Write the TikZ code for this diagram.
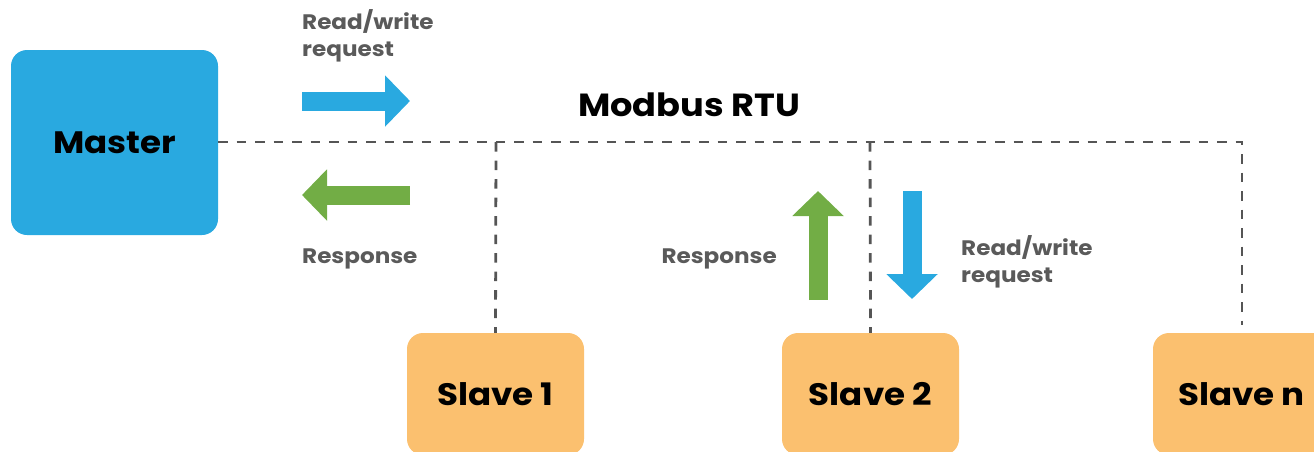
\documentclass[tikz,border=0pt]{standalone}
\usepackage{fontspec}
\setmainfont{Poppins}[FakeStretch=1.1]
\usetikzlibrary{arrows.meta}
\definecolor{mblue}{HTML}{29A9E0}
\definecolor{mgreen}{HTML}{72AD45}
\definecolor{morange}{HTML}{FBC06F}
\definecolor{dashgray}{HTML}{555555}
\definecolor{txtgray}{HTML}{5A5A5A}
\tikzset{
  masterbox/.style={fill=mblue, rounded corners=16pt, minimum width=207pt, minimum height=185pt, inner sep=0pt, font=\fontsize{31}{34}\selectfont\bfseries},
  slavebox/.style={fill=morange, rounded corners=16pt, minimum width=177pt, minimum height=122pt, inner sep=0pt, font=\fontsize{31}{34}\selectfont\bfseries},
  bus/.style={draw=dashgray, line width=2.8pt, dash pattern=on 9.5pt off 9pt},
  fatarrow/.style={line width=19pt, -{Triangle[length=25pt,width=50pt]}},
  lbl/.style={text=txtgray, font=\fontsize{21}{27}\selectfont\bfseries, inner sep=0pt, align=left},
}
\begin{document}
\begin{tikzpicture}[x=1pt,y=-1pt]
\useasboundingbox (0,0) rectangle (1314,451);
\begin{scope}
\clip (0,0) rectangle (1314,451);
\node[masterbox] (master) at (114.5,142.5) {Master};
\node[slavebox] (s1) at (495.5,394) {Slave 1};
\node[slavebox] (s2) at (870.5,394) {Slave 2};
\node[slavebox] (sn) at (1241.5,394) {Slave n};
\end{scope}
\coordinate (j1) at (496,142);
\coordinate (j2) at (870,142);
\coordinate (jn) at (1242,142);
\coordinate (en) at (1242,325);
\draw[bus] (master.east |- j1) -- (jn) -- (en);
\draw[bus] (j1) -- (s1.north);
\draw[bus] (j2) -- (s2.north);
\node[font=\fontsize{32}{34}\selectfont\bfseries, inner sep=0pt] (title) at (689,105) {Modbus RTU};
% arrows
\coordinate (a1s) at (302,101); \coordinate (a1e) at (410,101);
\coordinate (a2s) at (410,195); \coordinate (a2e) at (302,195);
\coordinate (a3s) at (818,300); \coordinate (a3e) at (818,191);
\coordinate (a4s) at (912,191); \coordinate (a4e) at (912,299);
\draw[fatarrow, color=mblue] (a1s) -- (a1e);
\draw[fatarrow, color=mgreen] (a2s) -- (a2e);
\draw[fatarrow, color=mgreen] (a3s) -- (a3e);
\draw[fatarrow, color=mblue] (a4s) -- (a4e);
% labels
\node[lbl, anchor=base west] (rq1) at (302,56) {Read/write\\request};
\node[lbl, anchor=base west] (rs1) at (302,263) {Response};
\node[lbl, anchor=base east] (rs2) at (777,263) {Response};
\node[lbl, anchor=base west] (rq2) at (961,282) {Read/write\\request};
\end{tikzpicture}
\end{document}
